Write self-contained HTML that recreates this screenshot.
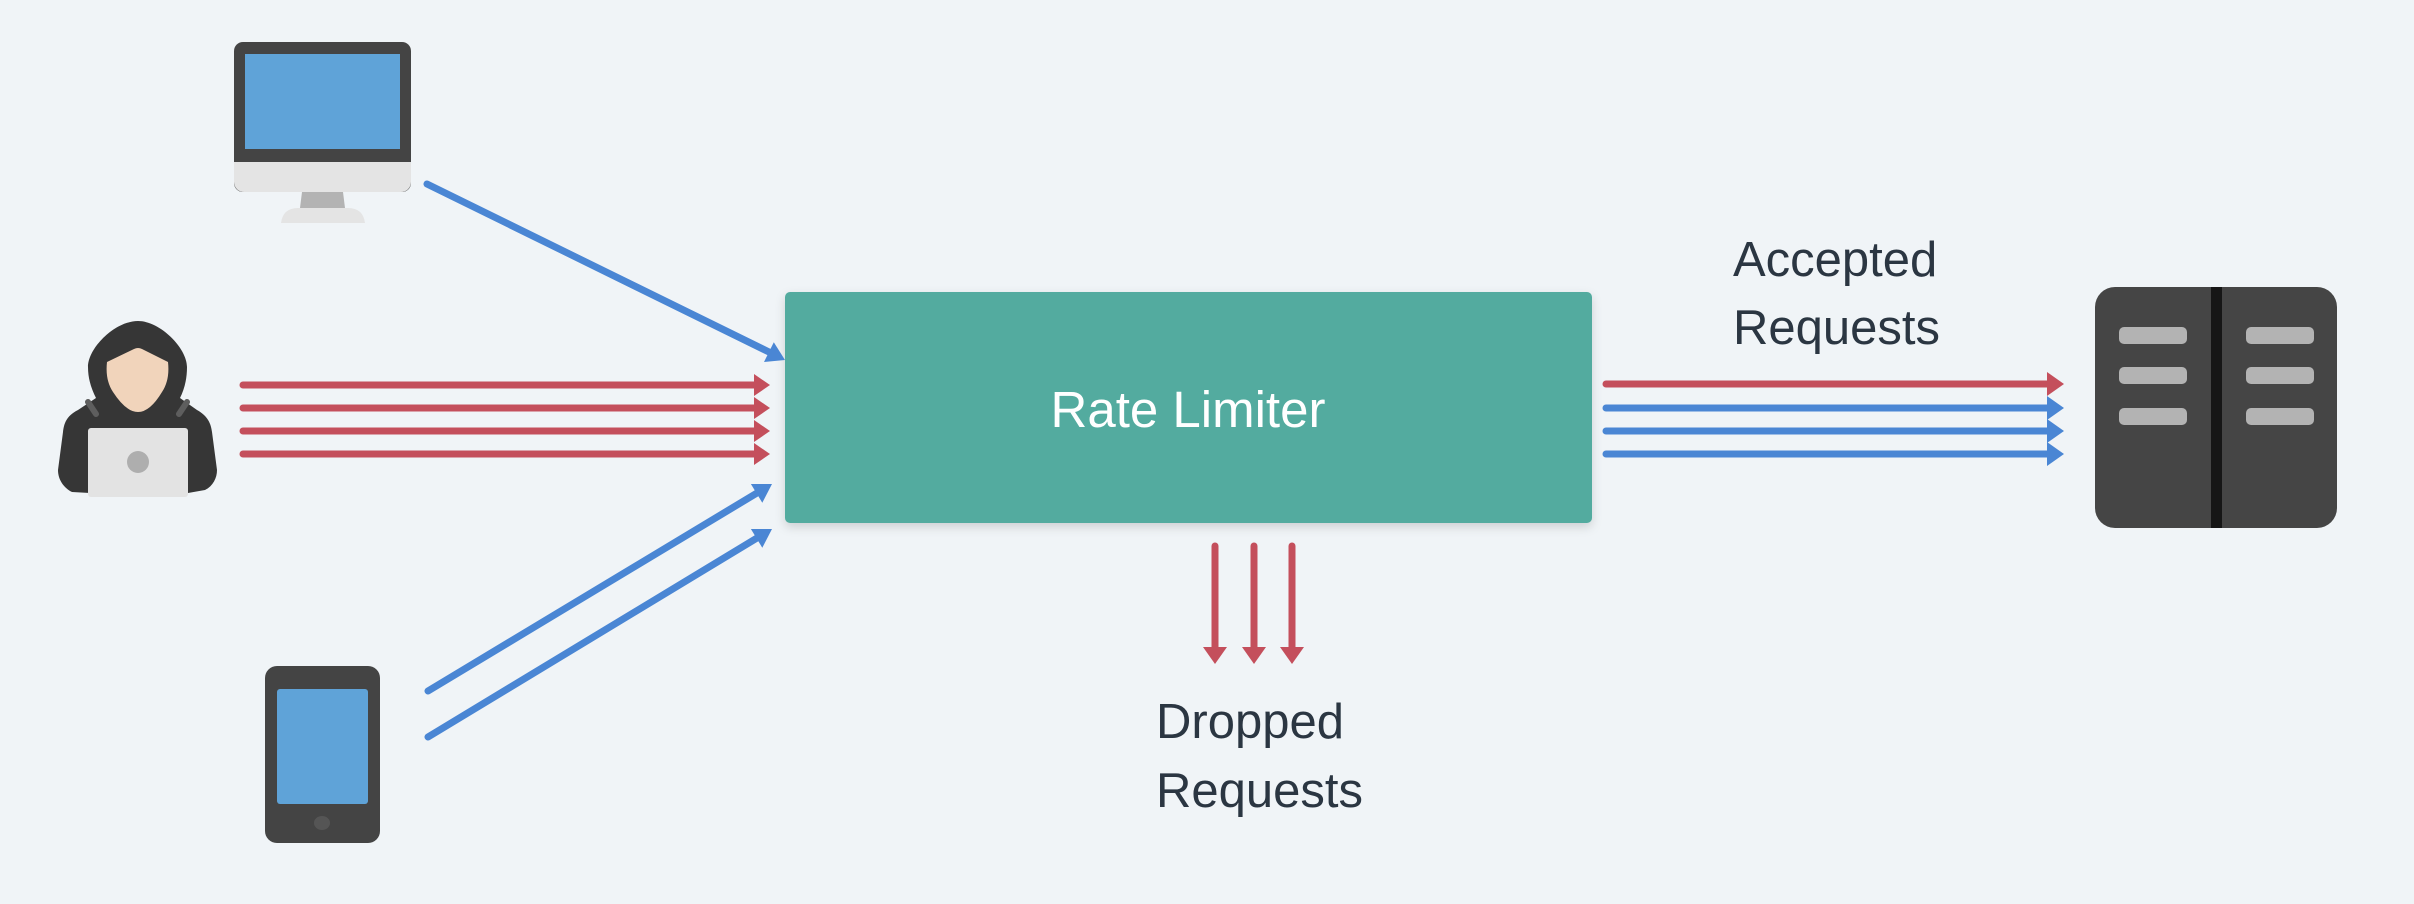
<!DOCTYPE html>
<html><head><meta charset="utf-8"><style>
html,body{margin:0;padding:0;background:#f0f4f7;}
svg{display:block;}
text{font-family:"Liberation Sans",sans-serif;}
</style></head><body>
<svg width="2414" height="904" viewBox="0 0 2414 904" xmlns="http://www.w3.org/2000/svg">
<defs>
<filter id="sh" x="-5%" y="-10%" width="110%" height="130%"><feDropShadow dx="0" dy="4" stdDeviation="5" flood-color="#000" flood-opacity="0.15"/></filter>
</defs>
<rect width="2414" height="904" fill="#f0f4f7"/>
<!-- monitor -->
<rect x="234" y="42" width="177" height="150" rx="9" fill="#444"/>
<path d="M234 162 H411 V182 a10 10 0 0 1 -10 10 H244 a10 10 0 0 1 -10 -10 Z" fill="#e4e4e4"/>
<rect x="245" y="54" width="155" height="95" fill="#5fa3d8"/>
<polygon points="302,192 343,192 345,208 300,208" fill="#b3b3b3"/>
<path d="M281 223 Q283 208 298 208 H348 Q363 208 365 223 Z" fill="#e4e4e4"/>
<!-- hacker -->
<path d="M138 321 C115 321 88 348 88 367 C88 380 92 390 96 398 L78 410 C66 416 64 424 63 432 L58 470 C58 480 64 488 72 492 L90 493 L188 493 L205 490 C213 486 217 478 217 470 L212 432 C211 424 208 416 197 410 L180 398 C184 390 187 380 187 367 C187 348 160 321 138 321 Z" fill="#363636"/>
<path d="M88 402 L96 414 M187 402 L179 414" stroke="#5e5e5e" stroke-width="6" stroke-linecap="round"/>
<path d="M107 362 L134 349 Q138 347 142 349 L168 362 Q170 380 162 392 Q150 412 138 412 Q126 412 113 392 Q105 380 107 362 Z" fill="#f1d4bb"/>
<rect x="88" y="428" width="100" height="69" rx="3" fill="#e3e3e3"/>
<circle cx="138" cy="462" r="11" fill="#aeaeae"/>
<!-- tablet -->
<rect x="265" y="666" width="115" height="177" rx="12" fill="#444"/>
<rect x="277" y="689" width="91" height="115" rx="3" fill="#5fa3d8"/>
<ellipse cx="322" cy="823" rx="8" ry="7" fill="#555"/>
<!-- server -->
<rect x="2095" y="287" width="242" height="241" rx="20" fill="#454545"/>
<rect x="2211" y="287" width="11" height="241" fill="#161616"/>
<g fill="#b3b3b3">
<rect x="2119" y="327" width="68" height="17" rx="5"/><rect x="2246" y="327" width="68" height="17" rx="5"/>
<rect x="2119" y="367" width="68" height="17" rx="5"/><rect x="2246" y="367" width="68" height="17" rx="5"/>
<rect x="2119" y="408" width="68" height="17" rx="5"/><rect x="2246" y="408" width="68" height="17" rx="5"/>
</g>
<!-- rate limiter -->
<rect x="785" y="292" width="807" height="231" rx="5" fill="#52ab9f" filter="url(#sh)"/>
<text x="1188" y="427" font-size="51" fill="#fff" text-anchor="middle">Rate Limiter</text>
<!-- incoming red -->
<g stroke="#c44f5c" stroke-width="7" stroke-linecap="round">
<line x1="243" y1="385" x2="758" y2="385"/><line x1="243" y1="408" x2="758" y2="408"/>
<line x1="243" y1="431" x2="758" y2="431"/><line x1="243" y1="454" x2="758" y2="454"/>
</g>
<g fill="#c44f5c">
<polygon points="754,374 770,385 754,396"/><polygon points="754,397 770,408 754,419"/>
<polygon points="754,420 770,431 754,442"/><polygon points="754,443 770,454 754,465"/>
</g>
<!-- incoming blue -->
<g stroke="#4a86d4" stroke-width="7" stroke-linecap="round">
<line x1="427" y1="184" x2="769" y2="352"/>
<line x1="428" y1="691" x2="757" y2="493"/>
<line x1="428" y1="737" x2="757" y2="538"/>
</g>
<g fill="#4a86d4">
<polygon points="785,360 773.8,342.2 764,362"/>
<polygon points="772,484 750.9,484 762.3,502.8"/>
<polygon points="772,529 750.9,529 762.3,547.8"/>
</g>
<!-- outgoing -->
<g stroke-width="7" stroke-linecap="round">
<line x1="1606" y1="384" x2="2052" y2="384" stroke="#c44f5c"/>
<line x1="1606" y1="408" x2="2052" y2="408" stroke="#4a86d4"/>
<line x1="1606" y1="431" x2="2052" y2="431" stroke="#4a86d4"/>
<line x1="1606" y1="454" x2="2052" y2="454" stroke="#4a86d4"/>
</g>
<polygon points="2047,372 2064,384 2047,396" fill="#c44f5c"/>
<g fill="#4a86d4">
<polygon points="2047,396 2064,408 2047,420"/><polygon points="2047,419 2064,431 2047,443"/><polygon points="2047,442 2064,454 2047,466"/>
</g>
<!-- dropped -->
<g stroke="#c44f5c" stroke-width="7" stroke-linecap="round">
<line x1="1215" y1="546" x2="1215" y2="650"/><line x1="1254" y1="546" x2="1254" y2="650"/><line x1="1292" y1="546" x2="1292" y2="650"/>
</g>
<g fill="#c44f5c">
<polygon points="1203,647 1227,647 1215,664"/><polygon points="1242,647 1266,647 1254,664"/><polygon points="1280,647 1304,647 1292,664"/>
</g>
<g fill="#2b3642" font-size="49">
<text x="1733" y="276">Accepted</text>
<text x="1733" y="344">Requests</text>
<text x="1156" y="738">Dropped</text>
<text x="1156" y="807">Requests</text>
</g>
</svg>
</body></html>
